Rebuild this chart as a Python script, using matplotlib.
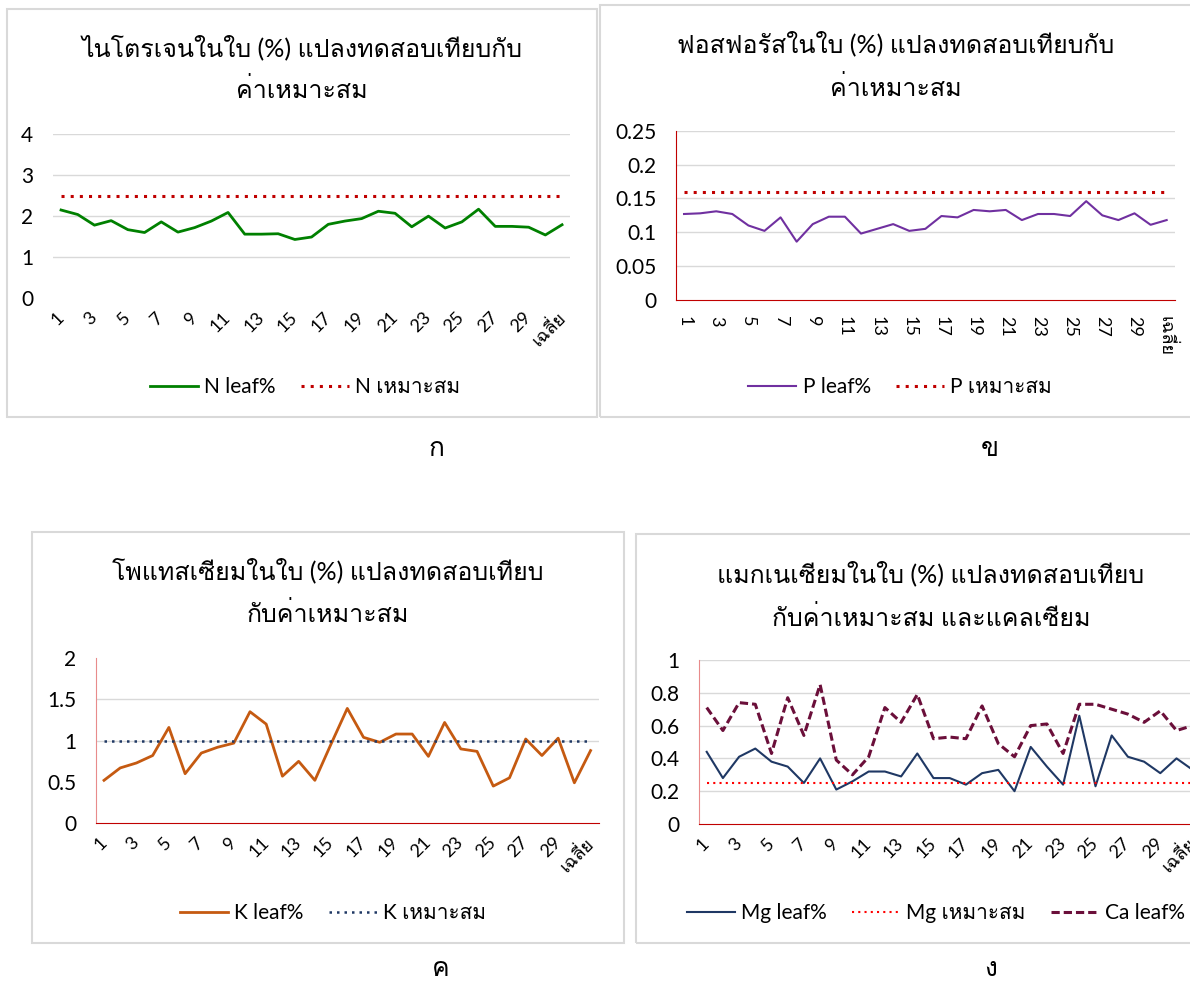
import numpy as np
import matplotlib
matplotlib.use("Agg")
import matplotlib.pyplot as plt
from matplotlib import font_manager
from matplotlib.ft2font import FT2Font
from matplotlib.patches import Rectangle

# categories: plots 1..30 plus the average
cats = [str(i) for i in range(1, 31)] + ["เฉลี่ย"]

n_leaf = [2.15, 2.04, 1.78, 1.89, 1.67, 1.60, 1.86, 1.61, 1.72, 1.88, 2.09,
          1.56, 1.56, 1.57, 1.43, 1.49, 1.80, 1.88, 1.94, 2.12, 2.07, 1.74,
          2.00, 1.71, 1.86, 2.17, 1.75, 1.75, 1.73, 1.54, 1.79]
n_opt = 2.5

p_leaf = [0.127, 0.128, 0.131, 0.127, 0.110, 0.102, 0.122, 0.086, 0.112, 0.123,
          0.123, 0.098, 0.105, 0.112, 0.102, 0.105, 0.124, 0.122, 0.133, 0.131,
          0.133, 0.118, 0.127, 0.127, 0.124, 0.146, 0.125, 0.118, 0.128, 0.111,
          0.118]
p_opt = 0.16

k_leaf = [0.52, 0.67, 0.73, 0.82, 1.16, 0.60, 0.85, 0.92, 0.97, 1.35, 1.20,
          0.57, 0.75, 0.52, 0.96, 1.39, 1.04, 0.98, 1.08, 1.08, 0.81, 1.22,
          0.90, 0.87, 0.45, 0.55, 1.02, 0.82, 1.03, 0.49, 0.88]
k_opt = 1.0

mg_leaf = [0.44, 0.28, 0.41, 0.46, 0.38, 0.35, 0.25, 0.40, 0.21, 0.26, 0.32,
           0.32, 0.29, 0.43, 0.28, 0.28, 0.24, 0.31, 0.33, 0.20, 0.47, 0.35,
           0.24, 0.66, 0.23, 0.54, 0.41, 0.38, 0.31, 0.40, 0.33]
mg_opt = 0.25
ca_leaf = [0.71, 0.57, 0.74, 0.73, 0.43, 0.77, 0.54, 0.85, 0.39, 0.30, 0.41,
           0.71, 0.62, 0.79, 0.52, 0.53, 0.52, 0.72, 0.49, 0.41, 0.60, 0.61,
           0.43, 0.73, 0.73, 0.70, 0.67, 0.62, 0.69, 0.57, 0.60]

# find a font that has Thai glyphs
thai = []
for f in font_manager.fontManager.ttflist:
    try:
        if FT2Font(f.fname).get_char_index(0x0E01):
            thai.append(f.name)
    except Exception:
        pass
thai_font = thai[0] if thai else "DejaVu Sans"
plt.rcParams["font.family"] = ["Lato", thai_font, "DejaVu Sans"]

W, H = 1190, 986
fig = plt.figure(figsize=(W / 100, H / 100), dpi=100)


def px(x0, y0, x1, y1):
    return [x0 / W, 1 - y1 / H, (x1 - x0) / W, (y1 - y0) / H]


def frame(x0, y0, x1, y1):
    fig.add_artist(Rectangle((x0 / W, 1 - y1 / H), (x1 - x0) / W, (y1 - y0) / H,
                             transform=fig.transFigure, fill=False,
                             edgecolor="#d9d9d9", lw=1.5))


def title(x, y1, y2, l1, l2):
    fig.text(x / W, 1 - y1 / H, l1, ha="center", va="center", fontsize=18)
    fig.text(x / W, 1 - y2 / H, l2, ha="center", va="center", fontsize=18)


def setup(ax, ymax, step, grid_vals, vert=False, left_col=None, bot_col=None):
    x = np.arange(len(cats))
    ax.set_xlim(-0.5, len(cats) - 0.5)
    ax.set_ylim(0, ymax)
    ax.set_yticks(np.arange(0, ymax + step / 2, step))
    ax.set_yticklabels(["%g" % v for v in np.arange(0, ymax + step / 2, step)])
    for g in grid_vals:
        ax.axhline(g, color="#d9d9d9", lw=1, zorder=0)
    ax.set_xticks(x[::2])
    if vert:
        ax.set_xticklabels(cats[::2], rotation=270, ha="left", va="center",
                           rotation_mode="anchor", fontsize=13)
    else:
        ax.set_xticklabels(cats[::2], rotation=45, ha="right", va="center",
                           rotation_mode="anchor", fontsize=13)
    ax.tick_params(axis="both", length=0)
    ax.tick_params(axis="y", pad=14, labelsize=15)
    ax.tick_params(axis="x", pad=12)
    for s in ["top", "right"]:
        ax.spines[s].set_visible(False)
    if left_col:
        ax.spines["left"].set_color(left_col)
    else:
        ax.spines["left"].set_visible(False)
    if bot_col:
        ax.spines["bottom"].set_color(bot_col)
    else:
        ax.spines["bottom"].set_visible(False)
    return x


dots = (0, (1, 2.0))
leg_kw = dict(loc="center", bbox_transform=fig.transFigure, frameon=False,
              fontsize=15, handlelength=2.3, columnspacing=1.2, handletextpad=0.3)

# ก  nitrogen
frame(7, 9, 597, 417)
title(302, 47, 90, "ไนโตรเจนในใบ (%) แปลงทดสอบเทียบกับ", "ค่าเหมาะสม")
ax1 = fig.add_axes(px(52.7, 134.3, 570.4, 298))
x = setup(ax1, 4, 1, [1, 2, 3, 4])
ax1.plot(x, n_leaf, color="#008000", lw=2, label="N leaf%")
ax1.plot(x, [n_opt] * len(x), color="#c00000", lw=2.2, ls=dots, label="N เหมาะสม")
ax1.legend(bbox_to_anchor=(305 / W, 1 - 387 / H), ncol=2, **leg_kw)
fig.text(436 / W, 1 - 448 / H, "ก", ha="center", va="center", fontsize=19)

# ข  phosphorus
frame(600, 5, 1200, 417)
title(896, 43, 87, "ฟอสฟอรัสในใบ (%) แปลงทดสอบเทียบกับ", "ค่าเหมาะสม")
ax2 = fig.add_axes(px(676, 131, 1174.7, 299.7))
x = setup(ax2, 0.25, 0.05, [0.05, 0.1, 0.15, 0.2, 0.25], vert=True,
          left_col="#c00000", bot_col="#c00000")
ax2.plot(x, p_leaf, color="#7030a0", lw=1.5, label="P leaf%")
ax2.plot(x, [p_opt] * len(x), color="#c00000", lw=2.2, ls=dots, label="P เหมาะสม")
ax2.legend(bbox_to_anchor=(900 / W, 1 - 387 / H), ncol=2, **leg_kw)
fig.text(990 / W, 1 - 448 / H, "ข", ha="center", va="center", fontsize=19)

# ค  potassium
frame(32, 532, 624, 943)
title(328, 570, 613, "โพแทสเซียมในใบ (%) แปลงทดสอบเทียบ", "กับค่าเหมาะสม")
ax3 = fig.add_axes(px(95.9, 658, 598.7, 823.3))
x = setup(ax3, 2, 0.5, [1.0, 1.5], left_col="#e88b8b", bot_col="#c00000")
ax3.plot(x, k_leaf, color="#c55a11", lw=2, label="K leaf%")
ax3.plot(x, [k_opt] * len(x), color="#1f3864", lw=1.8, ls=dots, label="K เหมาะสม")
ax3.legend(bbox_to_anchor=(333 / W, 1 - 913 / H), ncol=2, **leg_kw)
fig.text(441 / W, 1 - 969 / H, "ค", ha="center", va="center", fontsize=19)

# ง  magnesium and calcium
frame(636, 534, 1210, 943)
title(931, 573, 617, "แมกเนเซียมในใบ (%) แปลงทดสอบเทียบ", "กับค่าเหมาะสม และแคลเซียม")
ax4 = fig.add_axes(px(698.6, 660, 1200.8, 824))
x = setup(ax4, 1, 0.2, [0.2, 0.4, 0.6, 0.8, 1.0], left_col="#e88b8b", bot_col="#c00000")
ax4.plot(x, mg_leaf, color="#1f3864", lw=1.5, label="Mg leaf%")
ax4.plot(x, [mg_opt] * len(x), color="#ff0000", lw=1.5, ls=dots, label="Mg เหมาะสม")
ax4.plot(x, ca_leaf, color="#6b0f3a", lw=2.2, ls=(0, (2.7, 1.3)), label="Ca leaf%")
ax4.legend(bbox_to_anchor=(936 / W, 1 - 913 / H), ncol=3, **leg_kw)
fig.text(991 / W, 1 - 969 / H, "ง", ha="center", va="center", fontsize=19)

fig.savefig("out.png", dpi=100)
